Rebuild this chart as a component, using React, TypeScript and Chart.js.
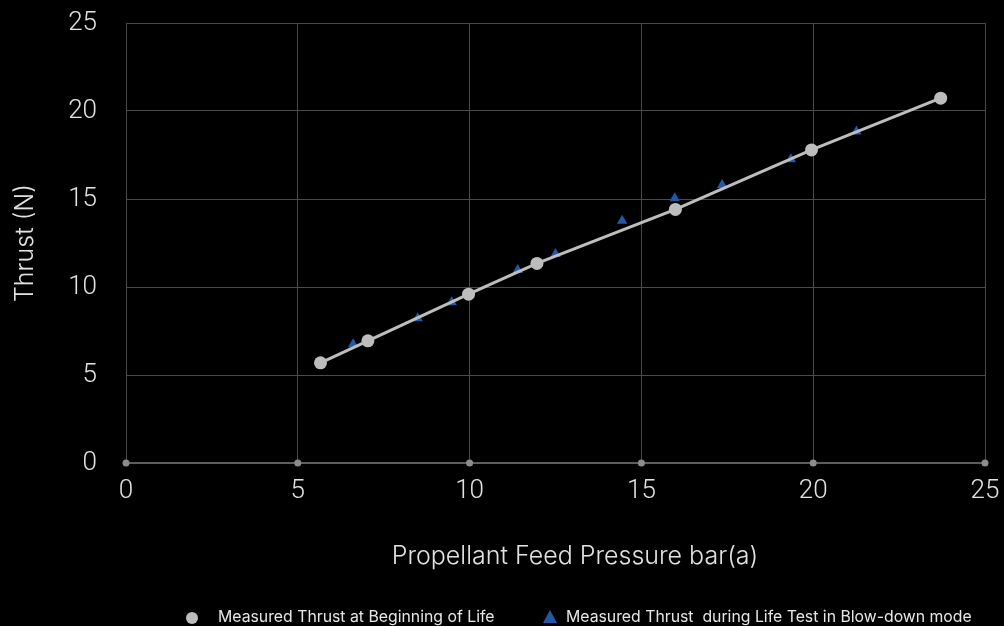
import React, { useEffect, useRef } from "react";
import { Chart, registerables } from "chart.js";

Chart.register(...registerables);

// Measured Thrust at Beginning of Life
const bolPressure = [5.66, 7.04, 9.97, 11.96, 15.99, 19.95, 23.71];
const bolThrust = [5.69, 6.94, 9.59, 11.34, 14.41, 17.79, 20.73];

// Measured Thrust during Life Test in Blow-down mode
const blowPressure = [6.61, 8.49, 9.48, 11.4, 12.5, 14.44, 15.97, 17.35, 19.35, 21.26];
const blowThrust = [6.75, 8.23, 9.14, 10.96, 11.87, 13.77, 15.04, 15.8, 17.26, 18.83];

// Axis tick values (x-axis markers)
const xTicks = [0, 5, 10, 15, 20, 25];

const seriesNames = [
  "Measured Thrust at Beginning of Life",
  "Measured Thrust  during Life Test in Blow-down mode",
];
const xTitle = "Propellant Feed Pressure bar(a)";
const yTitle = "Thrust (N)";

const FONT = "Inter, 'Noto Sans', sans-serif";
const TICK_FONT = "Roboto, Inter, sans-serif";

export default function App() {
  const ref = useRef<HTMLCanvasElement | null>(null);

  useEffect(() => {
    document.body.style.margin = "0";
    document.body.style.background = "#000";
    const canvas = ref.current;
    if (!canvas) return;
    const chart = new Chart(canvas, {
      type: "scatter",
      data: {
        datasets: [
          {
            label: seriesNames[0],
            data: bolPressure.map((x, i) => ({ x, y: bolThrust[i] })),
            showLine: true,
            borderColor: "#bdbdbd",
            borderWidth: 3,
            backgroundColor: "#bdbdbd",
            pointBackgroundColor: "#bdbdbd",
            pointBorderWidth: 0,
            pointRadius: 6.5,
            pointStyle: "circle",
            order: 0,
          },
          {
            label: seriesNames[1],
            data: blowPressure.map((x, i) => ({ x, y: blowThrust[i] })),
            showLine: false,
            backgroundColor: "#2457a6",
            pointBackgroundColor: "#2457a6",
            pointBorderWidth: 0,
            pointRadius: 6,
            pointStyle: "triangle",
            order: 1,
          },
          {
            label: "axis",
            data: xTicks.map((x) => ({ x, y: 0 })),
            showLine: false,
            pointBackgroundColor: "#8c8c8c",
            pointBorderWidth: 0,
            pointRadius: 3.5,
            pointStyle: "circle",
            clip: false as any,
            order: 2,
          },
        ],
      },
      options: {
        responsive: false,
        animation: false,
        layout: { padding: { left: 0, right: 19, top: 23, bottom: 0 } },
        plugins: {
          legend: { display: false },
          tooltip: { enabled: false },
        },
        scales: {
          x: {
            type: "linear",
            min: 0,
            max: 25,
            ticks: {
              stepSize: 5,
              color: "#e2e2e2",
              font: { family: TICK_FONT, size: 26, weight: "300" as any },
              padding: 13,
            },
            grid: { color: "#4a4a4a", lineWidth: 1, drawTicks: false },
            border: { color: "#5e5e5e", width: 2 },
            afterFit: (scale: any) => {
              scale.height = 163;
              scale.paddingLeft = 0;
              scale.paddingRight = 0;
            },
          },
          y: {
            type: "linear",
            min: 0,
            max: 25,
            ticks: {
              stepSize: 5,
              color: "#e2e2e2",
              font: { family: TICK_FONT, size: 26, weight: "300" as any },
              padding: 29,
            },
            grid: { color: "#4a4a4a", lineWidth: 1, drawTicks: false },
            border: { color: "#4a4a4a", width: 1 },
            title: {
              display: true,
              text: yTitle,
              color: "#e2e2e2",
              font: { family: FONT, size: 25, weight: "300" as any },
              padding: { top: 10, bottom: 0 },
            },
            afterFit: (scale: any) => {
              scale.width = 126;
              scale.paddingTop = 0;
              scale.paddingBottom = 0;
            },
          },
        },
      },
    });
    return () => chart.destroy();
  }, []);

  const legendText: React.CSSProperties = {
    position: "absolute",
    top: 607,
    fontFamily: FONT,
    fontSize: 15.8,
    fontWeight: 400,
    color: "#e6e6e6",
    letterSpacing: "0px",
    whiteSpace: "pre",
    lineHeight: "20px",
  };

  return (
    <div
      style={{
        position: "fixed",
        left: 0,
        top: 0,
        width: 1004,
        height: 626,
        background: "#000",
        overflow: "hidden",
      }}
    >
      <canvas ref={ref} width={1004} height={626} style={{ display: "block" }} />
      <div
        style={{
          position: "absolute",
          left: 575,
          top: 540,
          transform: "translateX(-50%)",
          fontFamily: FONT,
          fontSize: 25,
          fontWeight: 300,
          color: "#e2e2e2",
          whiteSpace: "pre",
          lineHeight: "30px",
        }}
      >
        {xTitle}
      </div>
      <div
        style={{
          position: "absolute",
          left: 186,
          top: 612,
          width: 12,
          height: 12,
          borderRadius: "50%",
          background: "#bdbdbd",
        }}
      />
      <div style={{ ...legendText, left: 218 }}>{seriesNames[0]}</div>
      <div
        style={{
          position: "absolute",
          left: 543,
          top: 610,
          width: 0,
          height: 0,
          borderLeft: "7px solid transparent",
          borderRight: "7px solid transparent",
          borderBottom: "13px solid #2457a6",
        }}
      />
      <div style={{ ...legendText, left: 566 }}>{seriesNames[1]}</div>
    </div>
  );
}
